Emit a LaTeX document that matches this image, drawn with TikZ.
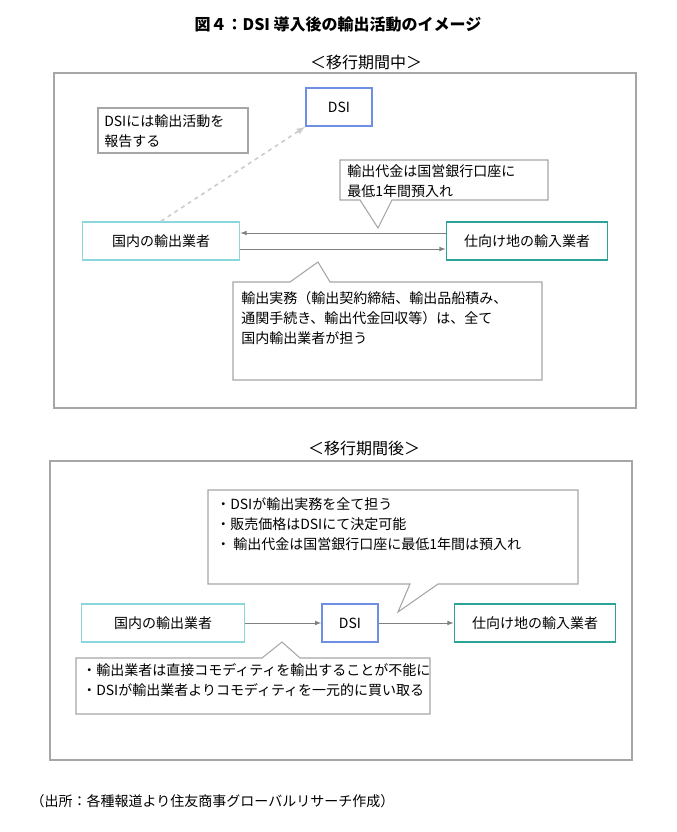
\documentclass[tikz,border=0pt]{standalone}
\usepackage{fontspec}
\setmainfont{Noto Sans CJK JP}
\usetikzlibrary{calc}
\tikzset{>=latex}
\definecolor{frameg}{HTML}{A6A6A6}
\definecolor{dsiblue}{HTML}{6F8FE3}
\definecolor{domcyan}{HTML}{8AD8DC}
\definecolor{impteal}{HTML}{2BA396}
\tikzset{
    box/.style = {draw, line width=1.2pt, minimum height=28.5pt, inner sep=0pt, font=\fontsize{10.5}{12}\selectfont},
    note/.style = {draw=frameg, fill=white, line width=0.8pt},
    txt/.style = {anchor=north west, align=left, inner sep=0pt, font=\fontsize{10.5}{15}\selectfont},
    flow/.style = {->, gray, line width=0.6pt},
}

\begin{document}
\begin{tikzpicture}[x=0.75pt, y=-0.75pt]

    \useasboundingbox (0,0) rectangle (677,832);

    \node[font=\fontsize{12}{14}\selectfont\bfseries] (title) at (338,24) {図４：DSI 導入後の輸出活動のイメージ};

    % during transition
    \node[font=\fontsize{12}{14}\selectfont] (head1) at (366,62) {＜移行期間中＞};
    \draw[frameg, line width=1pt] (54,73) rectangle (636,408);

    \node[box, draw=dsiblue, minimum width=49.5pt] (dsi1) at (339,107) {DSI};
    \node[box, draw=domcyan, minimum width=118pt] (dom1) at (161,241) {国内の輸出業者};
    \node[box, draw=impteal, minimum width=121pt] (imp1) at (527,241) {仕向け地の輸入業者};

    \draw[flow] ([yshift=6pt]imp1.west) -- ([yshift=6pt]dom1.east);
    \draw[flow] ([yshift=-6pt]dom1.east) -- ([yshift=-6pt]imp1.west);
    \draw[->, gray!40, line width=1.2pt, dashed] (dom1.north) -- (dsi1.south west);

    \draw[note] (98,108) rectangle (248,153);
    \node[txt] (rep) at (104,114) {DSIには輸出活動を\\報告する};

    \draw[note] (340,160) -- (548,160) -- (548,200) -- (392,200) -- (378,228) -- (360,200) -- (340,200) -- cycle;
    \node[txt] (pay1) at (347,164) {輸出代金は国営銀行口座に\\最低1年間預入れ};

    \draw[note] (233,282) -- (290,282) -- (318,262) -- (330,282) -- (542,282) -- (542,380) -- (233,380) -- cycle;
    \node[txt] (work) at (241,291) {輸出実務（輸出契約締結、輸出品船積み、\\通関手続き、輸出代金回収等）は、全て\\国内輸出業者が担う};

    % after transition
    \node[font=\fontsize{12}{14}\selectfont] (head2) at (364,448) {＜移行期間後＞};
    \draw[frameg, line width=1pt] (50,461) rectangle (632,760);

    \node[box, draw=domcyan, minimum width=122pt] (dom2) at (163,623) {国内の輸出業者};
    \node[box, draw=dsiblue, minimum width=42pt] (dsi2) at (350,623) {DSI};
    \node[box, draw=impteal, minimum width=121pt] (imp2) at (535,623) {仕向け地の輸入業者};

    \draw[flow] (dom2) -- (dsi2);
    \draw[flow] (dsi2) -- (imp2);

    \draw[note] (208,490) -- (578,490) -- (578,584) -- (438,584) -- (398,612) -- (410,584) -- (208,584) -- cycle;
    \node[txt] (role) at (216,497) {・DSIが輸出実務を全て担う\\・販売価格はDSIにて決定可能\\・ 輸出代金は国営銀行口座に最低1年間は預入れ};

    \draw[note] (76,658) -- (262,658) -- (282,642) -- (300,658) -- (430,658) -- (430,714) -- (76,714) -- cycle;
    \node[txt] (ban) at (82,663) {・輸出業者は直接コモディティを輸出することが不能に\\・DSIが輸出業者よりコモディティを一元的に買い取る};

    \node[anchor=west, font=\fontsize{10.5}{12}\selectfont] (src) at (26,801) {（出所：各種報道より住友商事グローバルリサーチ作成）};

\end{tikzpicture}
\end{document}
